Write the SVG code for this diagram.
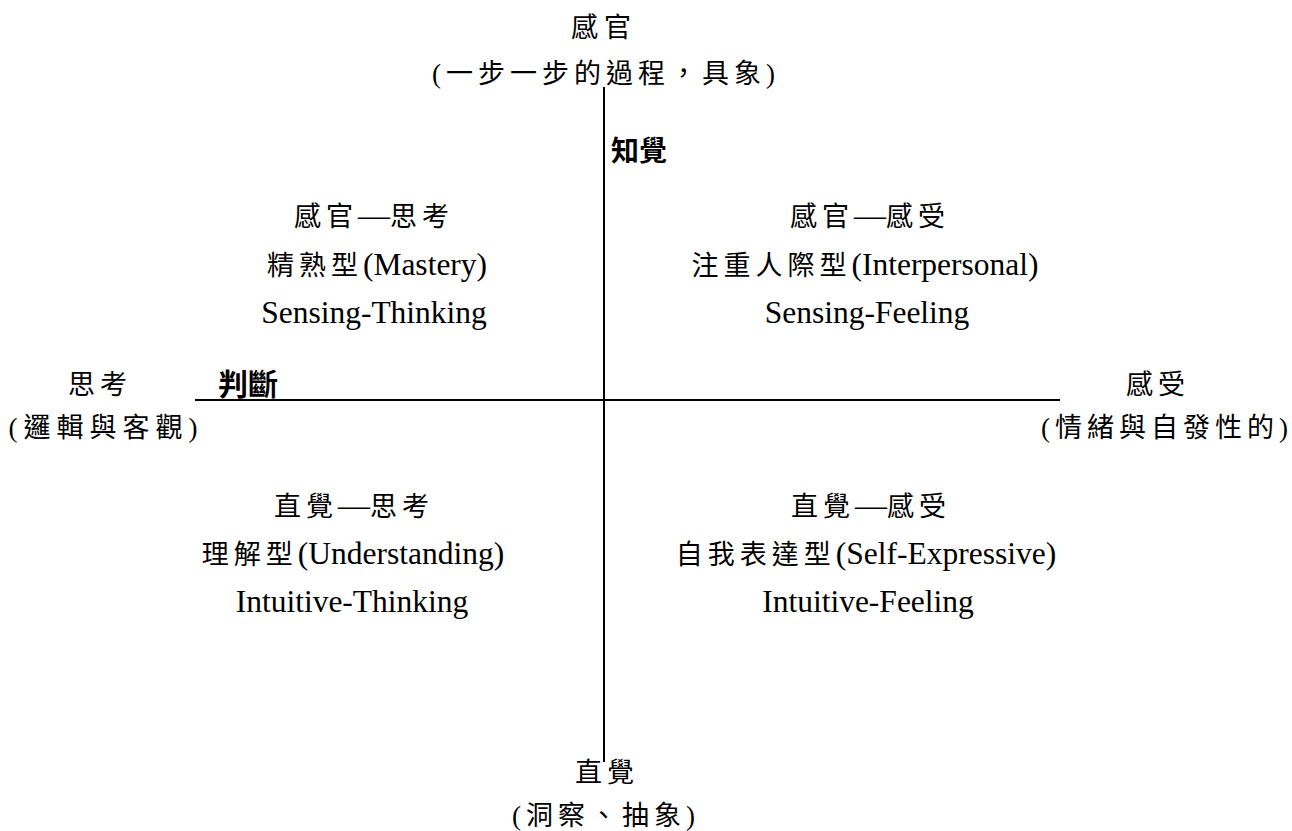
<svg xmlns="http://www.w3.org/2000/svg" width="1292" height="831" viewBox="0 0 1292 831">
<style>
.t{font-family:"Liberation Serif","Noto Sans CJK TC",serif;font-size:31.5px;fill:#000}
.c{font-size:27px;letter-spacing:5px}
.d{font-size:32px;letter-spacing:0}
.b{font-family:"Noto Sans CJK TC",sans-serif;font-weight:bold;font-size:28px;fill:#000}
.ax{stroke:#000;stroke-width:2;fill:none}
</style>
<rect width="1292" height="831" fill="#fff"/>
<g id="connectors">
<line class="ax" x1="604" y1="87" x2="604" y2="762"/>
<line class="ax" x1="195" y1="400" x2="1060" y2="400"/>
</g>
<g id="top-sensing">
<text class="t c" x="604" y="37" text-anchor="middle" style="letter-spacing:6px">感官</text>
<text class="t c" x="606" y="83" text-anchor="middle" style="letter-spacing:5px">(一步一步的過程，具象)</text>
<text class="b" x="611" y="161">知覺</text>
</g>
<g id="bottom-intuition">
<text class="t c" x="607" y="782" text-anchor="middle" style="letter-spacing:5px">直覺</text>
<text class="t c" x="606" y="825" text-anchor="middle" style="letter-spacing:5px">(洞察、抽象)</text>
</g>
<g id="left-thinking">
<text class="t c" x="100" y="394" text-anchor="middle" style="letter-spacing:5px">思考</text>
<text class="t c" x="106" y="437" text-anchor="middle" style="letter-spacing:6px">(邏輯與客觀)</text>
<text class="b" x="218" y="395" style="font-size:30px">判斷</text>
</g>
<g id="right-feeling">
<text class="t c" x="1158" y="394" text-anchor="middle" style="letter-spacing:5px">感受</text>
<text class="t c" x="1167" y="437" text-anchor="middle" style="letter-spacing:5px">(情緒與自發性的)</text>
</g>
<g id="q-sensing-thinking">
<text class="t" x="374" y="226" text-anchor="middle"><tspan class="c">感官</tspan><tspan class="d">—</tspan><tspan class="c">思考</tspan></text>
<text class="t" x="377" y="275" text-anchor="middle"><tspan class="c">精熟型</tspan>(Mastery)</text>
<text class="t" x="374" y="323" text-anchor="middle">Sensing-Thinking</text>
</g>
<g id="q-sensing-feeling">
<text class="t" x="870" y="226" text-anchor="middle"><tspan class="c">感官</tspan><tspan class="d">—</tspan><tspan class="c">感受</tspan></text>
<text class="t" x="865" y="275" text-anchor="middle"><tspan class="c">注重人際型</tspan>(Interpersonal)</text>
<text class="t" x="867" y="323" text-anchor="middle">Sensing-Feeling</text>
</g>
<g id="q-intuitive-thinking">
<text class="t" x="354" y="516" text-anchor="middle"><tspan class="c">直覺</tspan><tspan class="d">—</tspan><tspan class="c">思考</tspan></text>
<text class="t" x="353" y="564" text-anchor="middle"><tspan class="c">理解型</tspan>(Understanding)</text>
<text class="t" x="352" y="612" text-anchor="middle">Intuitive-Thinking</text>
</g>
<g id="q-intuitive-feeling">
<text class="t" x="871" y="516" text-anchor="middle"><tspan class="c">直覺</tspan><tspan class="d">—</tspan><tspan class="c">感受</tspan></text>
<text class="t" x="866" y="564" text-anchor="middle"><tspan class="c">自我表達型</tspan>(Self-Expressive)</text>
<text class="t" x="868" y="612" text-anchor="middle">Intuitive-Feeling</text>
</g>
</svg>
